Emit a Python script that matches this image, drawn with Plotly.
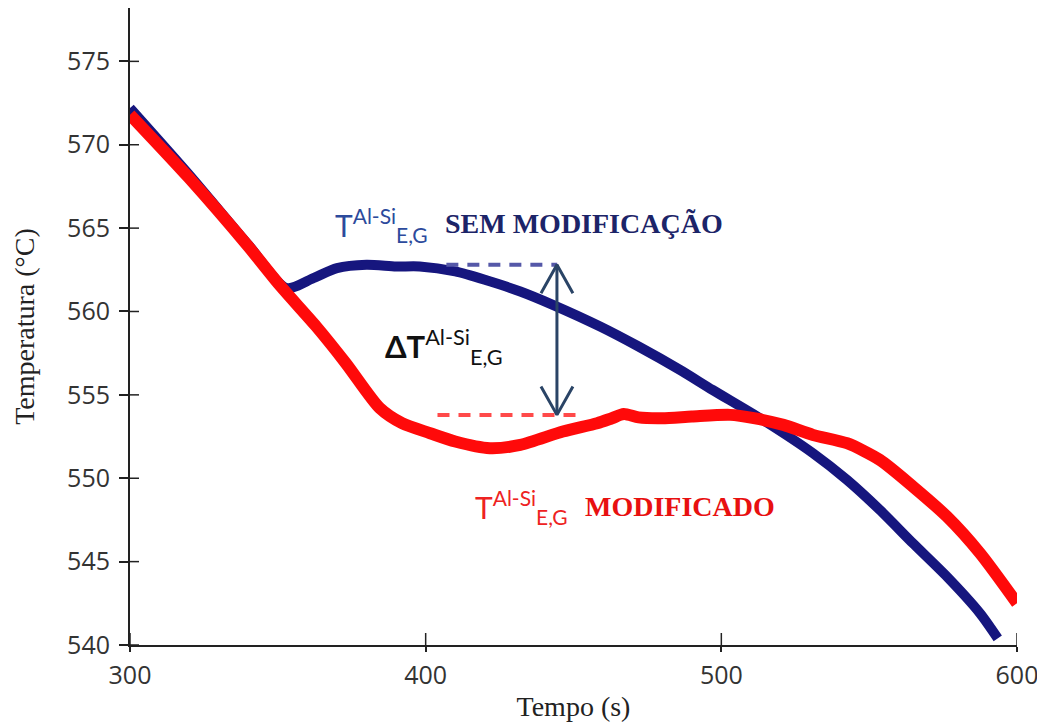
import plotly.graph_objects as go

# ---- data ----
tempo_sem = [300, 320, 340, 353, 362, 370, 380, 390, 398, 410, 420, 432, 443, 459, 472,
             486, 497, 514, 531, 542.5, 553.6, 564.8, 576.3, 587.5, 593.5]
temp_sem = [572.2, 568.2, 564.0, 561.4, 562.0, 562.6, 562.8, 562.7, 562.7, 562.4, 561.9,
            561.2, 560.4, 559.1, 557.9, 556.5, 555.3, 553.5, 551.5, 549.9, 548.1, 546.1,
            544.1, 541.9, 540.4]

tempo_mod = [300, 320, 340, 351, 363, 373, 384.5, 392, 401.5, 410, 421.7, 432, 446.4, 458,
             463, 467, 472, 480, 490, 503, 511, 521, 531, 542.5, 553.6, 564.8, 576.3,
             587.5, 600]
temp_mod = [571.8, 568.0, 563.9, 561.5, 559.1, 556.9, 554.2, 553.3, 552.7, 552.2, 551.8,
            552.0, 552.8, 553.3, 553.6, 553.85, 553.65, 553.6, 553.7, 553.8, 553.6, 553.2,
            552.6, 552.1, 551.1, 549.5, 547.7, 545.5, 542.5]

# dashed reference levels and the delta-T arrow
te_sem = 562.8
te_mod = 553.8
dash_sem_t = [407, 444.5]
dash_mod_t = [404, 452]
arrow_t = 444.4

x_range = [300, 600]
y_range = [540, 578.2]
x_ticks = [300, 400, 500, 600]
y_ticks = [540, 545, 550, 555, 560, 565, 570, 575]

BLUE = "#16167e"
RED = "#ff0a0a"
SERIF = "Liberation Serif"
SANS = "Lato"
TICKFONT = "Open Sans"
AXIS = "#222222"

fig = go.Figure()

fig.add_trace(go.Scatter(x=tempo_sem, y=temp_sem, mode="lines",
                         line=dict(color=BLUE, width=10, shape="spline", smoothing=0.7),
                         showlegend=False, hoverinfo="skip"))
fig.add_trace(go.Scatter(x=tempo_mod, y=temp_mod, mode="lines",
                         line=dict(color=RED, width=12, shape="spline", smoothing=0.7),
                         showlegend=False, hoverinfo="skip"))

# dashed levels
fig.add_trace(go.Scatter(x=dash_sem_t, y=[te_sem, te_sem], mode="lines",
                         line=dict(color="#5558a8", width=4, dash="12px,9px"),
                         showlegend=False, hoverinfo="skip"))
fig.add_trace(go.Scatter(x=dash_mod_t, y=[te_mod, te_mod], mode="lines",
                         line=dict(color="#ff4a4a", width=4, dash="12px,9px"),
                         showlegend=False, hoverinfo="skip"))

# double arrow (shaft + open chevrons)
hw = 5.4   # half width of chevron in seconds
hh = 1.7   # height of chevron in degrees
ARROW = "#2a4466"
fig.add_trace(go.Scatter(x=[arrow_t, arrow_t], y=[te_mod, te_sem], mode="lines",
                         line=dict(color=ARROW, width=3), showlegend=False, hoverinfo="skip"))
fig.add_trace(go.Scatter(x=[arrow_t - hw, arrow_t, arrow_t + hw],
                         y=[te_sem - hh, te_sem, te_sem - hh], mode="lines",
                         line=dict(color=ARROW, width=3), showlegend=False, hoverinfo="skip"))
fig.add_trace(go.Scatter(x=[arrow_t - hw, arrow_t, arrow_t + hw],
                         y=[te_mod + hh, te_mod, te_mod + hh], mode="lines",
                         line=dict(color=ARROW, width=3), showlegend=False, hoverinfo="skip"))

annotations = [
    dict(x=368.7, y=565.2, text="T<sup>Al-Si</sup><sub>E,G</sub>",
         font=dict(family=SANS, size=30, color="#2c4a9c")),
    dict(x=405.8, y=565.3, text="<b>SEM MODIFICAÇÃO</b>",
         font=dict(family=SERIF, size=28, color="#1c2468")),
    dict(x=385.6, y=557.9, text="<b>ΔT</b><sup>Al-Si</sup><sub>E,G</sub>",
         font=dict(family=SANS, size=31, color="#111111")),
    dict(x=416.0, y=548.3, text="T<sup>Al-Si</sup><sub>E,G</sub>",
         font=dict(family=SANS, size=30, color="#ee2222")),
    dict(x=453.2, y=548.3, text="<b>MODIFICADO</b>",
         font=dict(family=SERIF, size=28, color="#e81010")),
]
for a in annotations:
    a.update(xref="x", yref="y", xanchor="left", yanchor="middle", showarrow=False)

# crossing tick marks (pixel-sized, anchored at each tick value on the axis lines)
shapes = []
for xv in x_ticks:
    shapes.append(dict(type="line", xref="x", yref="y", x0=xv, x1=xv,
                       ysizemode="pixel", yanchor=y_range[0], y0=-5, y1=12,
                       line=dict(color=AXIS, width=1.5)))
for yv in y_ticks:
    shapes.append(dict(type="line", xref="x", yref="y", y0=yv, y1=yv,
                       xsizemode="pixel", xanchor=x_range[0], x0=-9, x1=9,
                       line=dict(color=AXIS, width=1.5)))

# the page body adds an 8px offset; size the figure so the plot lands where the reference has it
fig.update_layout(
    width=1037, height=718,
    margin=dict(l=122, r=28, t=0, b=81),
    paper_bgcolor="white", plot_bgcolor="white",
    annotations=annotations,
    shapes=shapes,
    xaxis=dict(range=x_range, tickvals=x_ticks, showgrid=False, zeroline=False,
               showline=True, linecolor=AXIS, linewidth=2,
               ticks="outside", ticklen=5, tickwidth=1.5, tickcolor=AXIS,
               ticklabelstandoff=2,
               tickfont=dict(family=TICKFONT, size=25, color="#333"),
               title=dict(text="Tempo (s)", font=dict(family=SERIF, size=28, color="#222"),
                          standoff=6)),
    yaxis=dict(range=y_range, tickvals=y_ticks, showgrid=False, zeroline=False,
               showline=True, linecolor=AXIS, linewidth=2,
               ticks="outside", ticklen=9, tickwidth=1.5, tickcolor=AXIS,
               ticklabelstandoff=4,
               tickfont=dict(family=TICKFONT, size=25, color="#333"),
               title=dict(text="Temperatura (°C)", font=dict(family=SERIF, size=28, color="#222"),
                          standoff=24)),
)

fig.write_html("out.html")
